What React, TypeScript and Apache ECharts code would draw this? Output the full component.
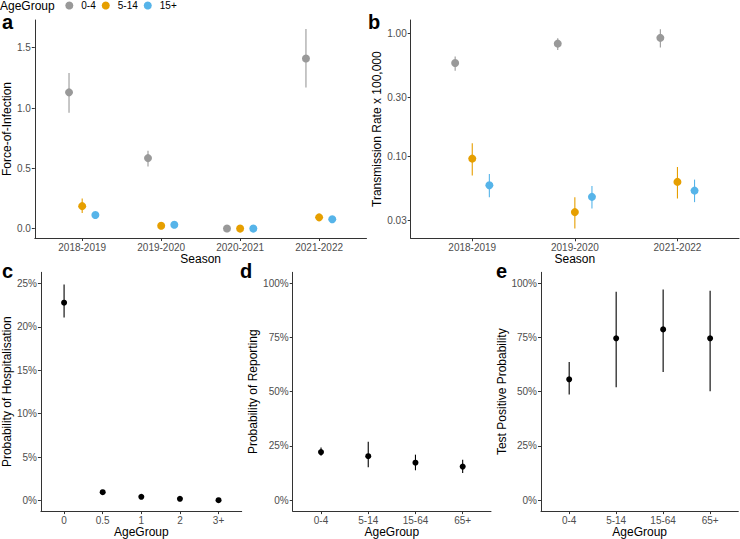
import React, { useEffect, useRef } from "react";
import * as echarts from "echarts";

// ---- Data ----
const seasonsA = ["2018-2019", "2019-2020", "2020-2021", "2021-2022"];
const seasonsB = ["2018-2019", "2019-2020", "2021-2022"];
const ageGroupsAB = ["0-4", "5-14", "15+"];
const ageColors = ["#999999", "#E69F00", "#56B4E9"];

// Panel a: force of infection
const foi04 = [1.13, 0.585, 0.002, 1.41];
const foi04Lo = [0.96, 0.515, 0.0, 1.17];
const foi04Hi = [1.29, 0.647, 0.004, 1.655];
const foi514 = [0.187, 0.025, 0.001, 0.094];
const foi514Lo = [0.13, 0.018, 0.0, 0.085];
const foi514Hi = [0.25, 0.032, 0.002, 0.104];
const foi15 = [0.113, 0.033, 0.001, 0.078];
const foi15Lo = [0.104, 0.028, 0.0, 0.072];
const foi15Hi = [0.122, 0.038, 0.002, 0.085];

// Panel b: transmission rate x 100,000 (log scale)
const tr04 = [0.573, 0.823, 0.916];
const tr04Lo = [0.494, 0.731, 0.764];
const tr04Hi = [0.645, 0.911, 1.078];
const tr514 = [0.0956, 0.0351, 0.0618];
const tr514Lo = [0.0695, 0.0258, 0.0452];
const tr514Hi = [0.1276, 0.0464, 0.0818];
const tr15 = [0.058, 0.0467, 0.0525];
const tr15Lo = [0.0464, 0.0375, 0.0423];
const tr15Hi = [0.0718, 0.0573, 0.0645];

// Panel c: probability of hospitalisation
const hospGroups = ["0", "0.5", "1", "2", "3+"];
const hosp = [0.228, 0.0095, 0.0042, 0.0019, 0.0003];
const hospLo = [0.211, 0.0085, 0.0036, 0.0015, 0.0001];
const hospHi = [0.249, 0.0105, 0.0048, 0.0023, 0.0006];

// Panel d: probability of reporting
const ageGroups4 = ["0-4", "5-14", "15-64", "65+"];
const report = [0.222, 0.203, 0.173, 0.155];
const reportLo = [0.205, 0.152, 0.138, 0.125];
const reportHi = [0.243, 0.27, 0.21, 0.187];

// Panel e: test positive probability
const testPos = [0.557, 0.746, 0.787, 0.746];
const testPosLo = [0.487, 0.52, 0.591, 0.502];
const testPosHi = [0.637, 0.96, 0.971, 0.965];

// Tick values
const ticksA = [0, 0.5, 1, 1.5];
const ticksB = [0.03, 0.1, 0.3, 1];
const ticksC = [0, 0.05, 0.1, 0.15, 0.2, 0.25];
const ticksDE = [0, 0.25, 0.5, 0.75, 1];

const FONT = "'Liberation Sans', Arial, Helvetica, sans-serif";

function catAxis(gridIndex: number, cats: string[], name: string) {
  const idx = cats.map((_, i) => i);
  return {
    type: "value",
    gridIndex,
    min: -0.6,
    max: cats.length - 0.4,
    name,
    nameLocation: "middle",
    nameGap: 13,
    nameTextStyle: { fontSize: 12, color: "#000", fontFamily: FONT },
    axisLine: { show: true, onZero: false, lineStyle: { color: "#333", width: 1 } },
    axisTick: { show: true, length: 3, customValues: idx, lineStyle: { color: "#333" } },
    axisLabel: {
      customValues: idx,
      color: "#4d4d4d",
      fontSize: 10,
      fontFamily: FONT,
      margin: 4,
      formatter: (v: number) => cats[Math.round(v)] ?? "",
    },
    splitLine: { show: false },
  };
}

function valAxis(
  gridIndex: number,
  min: number,
  max: number,
  ticks: number[],
  fmt: (v: number) => string,
  name: string,
  gap: number,
  type = "value"
) {
  return {
    type,
    ...(type === "log" ? { logBase: 10 } : {}),
    gridIndex,
    min,
    max,
    name,
    nameLocation: "middle",
    nameGap: gap,
    nameTextStyle: { fontSize: 12, color: "#000", fontFamily: FONT },
    axisLine: { show: true, onZero: false, lineStyle: { color: "#333", width: 1 } },
    axisTick: { show: true, length: 3, customValues: ticks, lineStyle: { color: "#333" } },
    axisLabel: {
      customValues: ticks,
      color: "#4d4d4d",
      fontSize: 10,
      fontFamily: FONT,
      margin: 4,
      formatter: fmt,
    },
    splitLine: { show: false },
  };
}

function errSeries(axisIndex: number, data: number[][], color: string, name: string) {
  return {
    type: "custom",
    name,
    xAxisIndex: axisIndex,
    yAxisIndex: axisIndex,
    z: 1,
    silent: true,
    data,
    renderItem: (params: any, api: any) => {
      const x = api.value(0);
      const p1 = api.coord([x, api.value(1)]);
      const p2 = api.coord([x, api.value(2)]);
      return {
        type: "line",
        shape: { x1: p1[0], y1: p1[1], x2: p2[0], y2: p2[1] },
        style: { stroke: color, lineWidth: 1.1 },
      };
    },
  };
}

function ptSeries(axisIndex: number, data: number[][], color: string, name: string, size: number) {
  return {
    type: "scatter",
    name,
    xAxisIndex: axisIndex,
    yAxisIndex: axisIndex,
    z: 3,
    symbol: "circle",
    symbolSize: size,
    itemStyle: { color, opacity: 1 },
    data,
  };
}

const pct = (v: number) => Math.round(v * 100) + "%";
const dodge = [-0.5 / 3, 0, 0.5 / 3];

export default function App() {
  const ref = useRef<HTMLDivElement>(null);
  useEffect(() => {
    if (!ref.current) return;
    const chart = echarts.init(ref.current, null, { renderer: "svg" });

    const foiMeans = [foi04, foi514, foi15];
    const foiLos = [foi04Lo, foi514Lo, foi15Lo];
    const foiHis = [foi04Hi, foi514Hi, foi15Hi];
    const trMeans = [tr04, tr514, tr15];
    const trLos = [tr04Lo, tr514Lo, tr15Lo];
    const trHis = [tr04Hi, tr514Hi, tr15Hi];

    const series: any[] = [];
    ageGroupsAB.forEach((g, k) => {
      series.push(
        errSeries(0, seasonsA.map((_, i) => [i + dodge[k], foiLos[k][i], foiHis[k][i]]), ageColors[k], "errA" + g)
      );
      series.push(ptSeries(0, seasonsA.map((_, i) => [i + dodge[k], foiMeans[k][i]]), ageColors[k], g, 8));
      series.push(
        errSeries(1, seasonsB.map((_, i) => [i + dodge[k], trLos[k][i], trHis[k][i]]), ageColors[k], "errB" + g)
      );
      series.push(ptSeries(1, seasonsB.map((_, i) => [i + dodge[k], trMeans[k][i]]), ageColors[k], g, 8));
    });
    series.push(errSeries(2, hospGroups.map((_, i) => [i, hospLo[i], hospHi[i]]), "#000", "errC"));
    series.push(ptSeries(2, hospGroups.map((_, i) => [i, hosp[i]]), "#000", "hosp", 6));
    series.push(errSeries(3, ageGroups4.map((_, i) => [i, reportLo[i], reportHi[i]]), "#000", "errD"));
    series.push(ptSeries(3, ageGroups4.map((_, i) => [i, report[i]]), "#000", "report", 6));
    series.push(errSeries(4, ageGroups4.map((_, i) => [i, testPosLo[i], testPosHi[i]]), "#000", "errE"));
    series.push(ptSeries(4, ageGroups4.map((_, i) => [i, testPos[i]]), "#000", "testpos", 6));

    const labelStyle = (text: string) => ({
      text,
      fontSize: 20,
      fontWeight: "bold",
      fontFamily: FONT,
      fill: "#000",
      verticalAlign: "middle",
      align: "left",
    });

    chart.setOption({
      animation: false,
      textStyle: { fontFamily: FONT },
      grid: [
        { left: 33.5, top: 20, width: 333, height: 218 },
        { left: 410.7, top: 20, width: 328.3, height: 218.3 },
        { left: 39.3, top: 272.3, width: 202.4, height: 239.4 },
        { left: 292.7, top: 272.3, width: 198.3, height: 239.4 },
        { left: 541, top: 272.3, width: 197.3, height: 239.4 },
      ],
      xAxis: [
        catAxis(0, seasonsA, "Season"),
        catAxis(1, seasonsB, "Season"),
        catAxis(2, hospGroups, "AgeGroup"),
        catAxis(3, ageGroups4, "AgeGroup"),
        catAxis(4, ageGroups4, "AgeGroup"),
      ],
      yAxis: [
        valAxis(0, -0.077, 1.7295, ticksA, (v) => v.toFixed(1), "Force-of-Infection", 19),
        valAxis(1, 0.0215, 1.28, ticksB, (v) => v.toFixed(2), "Transmission Rate x 100,000", 24, "log"),
        valAxis(2, -0.0123, 0.263, ticksC, pct, "Probability of Hospitalisation", 24.5),
        valAxis(3, -0.05, 1.05, ticksDE, pct, "Probability of Reporting", 30),
        valAxis(4, -0.05, 1.05, ticksDE, pct, "Test Positive Probability", 31),
      ],
      legend: {
        data: ageGroupsAB,
        left: 65.3,
        top: 0.5,
        padding: 0,
        itemGap: 6,
        itemWidth: 14,
        itemHeight: 8,
        icon: "circle",
        selectedMode: false,
        textStyle: { fontSize: 10, color: "#000", fontFamily: FONT },
      },
      graphic: [
        { type: "text", x: 0, y: 5.5, style: { text: "AgeGroup", fontSize: 12, fontFamily: FONT, fill: "#000", verticalAlign: "middle" } },
        { type: "text", x: 2, y: 22, style: labelStyle("a") },
        { type: "text", x: 368, y: 22, style: labelStyle("b") },
        { type: "text", x: 2, y: 270.5, style: labelStyle("c") },
        { type: "text", x: 240, y: 270.5, style: labelStyle("d") },
        { type: "text", x: 496, y: 270.5, style: labelStyle("e") },
      ],
      series,
    });
    return () => chart.dispose();
  }, []);
  return <div ref={ref} style={{ position: "absolute", left: 0, top: 0, width: 740, height: 539 }} />;
}
